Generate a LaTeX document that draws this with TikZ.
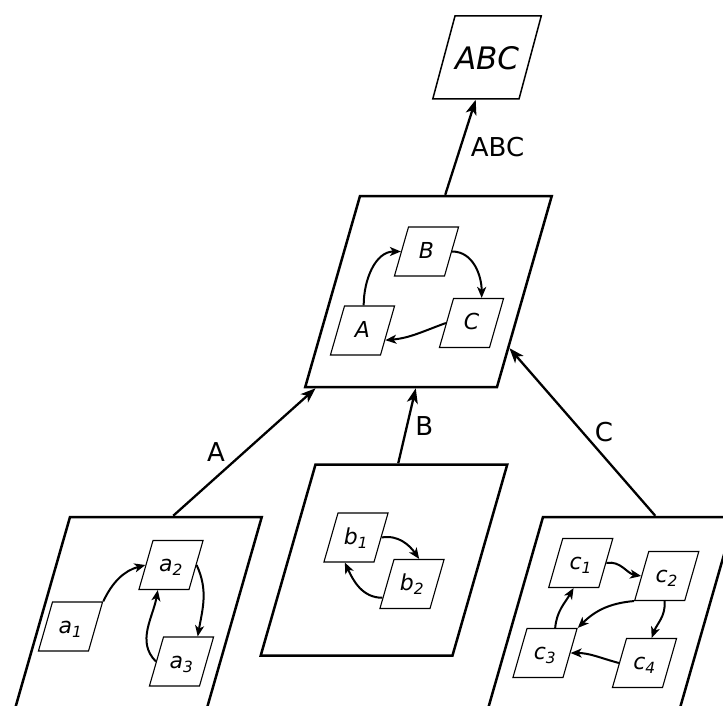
\documentclass[tikz,border=0pt]{standalone}
\usepackage{fontspec}
\setmainfont{DejaVu Sans}
\usetikzlibrary{shapes.geometric,arrows.meta}
\tikzset{
  para/.style={trapezium, trapezium left angle=74, trapezium right angle=106,
    draw, inner sep=0pt, align=center},
  bigbox/.style={para, line width=2.5pt, text width=137pt, text height=95.5pt, text depth=95.5pt},
  smallbox/.style={para, line width=1.1pt, text width=36pt, text height=31pt, text depth=18pt,
    font=\fontsize{22}{24}\selectfont\itshape},
  topbox/.style={para, trapezium left angle=75, trapezium right angle=105,
    line width=1.5pt, text width=64pt, text height=53.5pt, text depth=29.5pt,
    font=\fontsize{31}{36}\selectfont\itshape},
  bigedge/.style={-{Stealth[length=15pt,width=11pt,inset=4pt]}, line width=2.3pt},
  smalledge/.style={-{Stealth[length=11pt,width=9pt,inset=3pt]}, line width=2pt},
  elabel/.style={font=\fontsize{26}{30}\selectfont}
}
\begin{document}
\begin{tikzpicture}[x=1pt,y=-1pt]
\path[use as bounding box] (0,0) rectangle (723,706);
\clip (0,0) rectangle (723,706);

% top box
\node[topbox] (ABC) at (487,57.5) {ABC};

% middle box
\node[bigbox] (M) at (428.5,291.5) {};
\node[smallbox] (A) at (362.5,330.5) {A};
\node[smallbox] (B) at (426.5,251.5) {B};
\node[smallbox] (C) at (471.5,323) {C};

% bottom boxes
\node[bigbox] (Pa) at (138.5,612.5) {};
\node[bigbox] (Pb) at (384,560) {};
\node[bigbox] (Pc) at (611.5,612.5) {};

\node[smallbox] (a1) at (70.5,626.5) {a\textsubscript{1}};
\node[smallbox] (a2) at (171,565) {a\textsubscript{2}};
\node[smallbox] (a3) at (181.5,661.5) {a\textsubscript{3}};

\node[smallbox] (b1) at (356,537.5) {b\textsubscript{1}};
\node[smallbox] (b2) at (412,584) {b\textsubscript{2}};

\node[smallbox] (c1) at (580.75,563) {c\textsubscript{1}};
\node[smallbox] (c2) at (666.75,576) {c\textsubscript{2}};
\node[smallbox] (c3) at (545,653) {c\textsubscript{3}};
\node[smallbox] (c4) at (644.5,663) {c\textsubscript{4}};

% big edges
\draw[bigedge] ([xshift=-11pt]M.top side) -- node[elabel, pos=.5, right=6pt] {ABC} (ABC.bottom side);
\draw[bigedge] ([xshift=7pt]Pa.top side) -- node[elabel, pos=.5, left=15pt] {A} ([xshift=12pt]M.bottom left corner);
\draw[bigedge] ([xshift=-13.5pt]Pb.top side) -- node[elabel, pos=.5, right=4pt] {B} ([xshift=15pt]M.bottom side);
\draw[bigedge] ([xshift=16pt]Pc.top side) -- node[elabel, pos=.5, right=8pt] {C} (M.-35);

% inner edges of middle box
\draw[smalledge] ([xshift=-6pt]A.top side) to[out=90,in=180] (B.left side);
\draw[smalledge] (B.right side) to[out=0,in=90] ([xshift=3pt]C.top side);
\draw[smalledge] (C.left side) to[out=200,in=5] (A.-23);

% a
\draw[smalledge] (a1.top right corner) to[out=65,in=195] (a2.left side);
\draw[smalledge] (a2.right side) to[out=-65,in=80] ([xshift=9pt]a3.top side);
\draw[smalledge] (a3.left side) to[out=135,in=-100] ([xshift=-6pt]a2.bottom side);

% b
\draw[smalledge] (b1.right side) to[out=10,in=125] (b2.top side);
\draw[smalledge] (b2.205) to[out=180,in=-65] ([xshift=-4pt]b1.bottom side);

% c
\draw[smalledge] (c1.right side) to[out=10,in=170] (c2.left side);
\draw[smalledge] ([xshift=5pt]c2.bottom side) to[out=-85,in=70] (c4.top side);
\draw[smalledge] (c2.bottom left corner) to[out=185,in=45] (c3.top right corner);
\draw[smalledge] (c4.left side) to[out=165,in=0] (c3.right side);
\draw[smalledge] ([xshift=3pt]c3.top side) to[out=85,in=-120] (c1.bottom side);
\end{tikzpicture}
\end{document}
